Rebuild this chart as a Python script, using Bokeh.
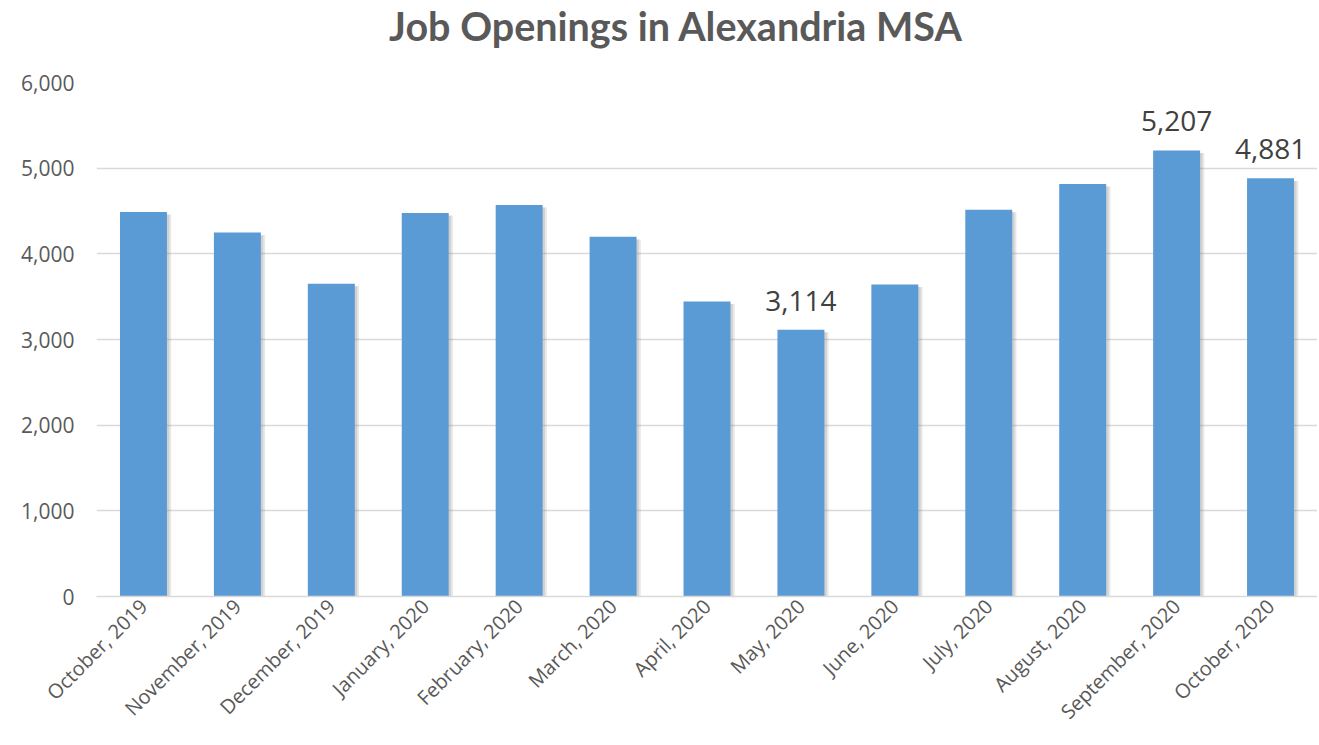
import math
from bokeh.plotting import figure
from bokeh.layouts import column
from bokeh.models import (ColumnDataSource, Range1d, NumeralTickFormatter, FixedTicker, Div)
from bokeh.transform import dodge
from bokeh.core.properties import value
from bokeh.embed import file_html
from bokeh.resources import INLINE

months = ["October, 2019", "November, 2019", "December, 2019", "January, 2020",
          "February, 2020", "March, 2020", "April, 2020", "May, 2020", "June, 2020",
          "July, 2020", "August, 2020", "September, 2020", "October, 2020"]
openings = [4488, 4248, 3651, 4477, 4570, 4198, 3444, 3114, 3643, 4515, 4815, 5207, 4881]
labeled_months = ["May, 2020", "September, 2020", "October, 2020"]
y_ticks = [0, 1000, 2000, 3000, 4000, 5000, 6000]
title_text = "Job Openings in Alexandria MSA"

labels = [f"{v:,}" if m in labeled_months else "" for m, v in zip(months, openings)]
shadow_top = [v - 30 for v in openings]
src = ColumnDataSource(dict(month=months, val=openings, lab=labels, stop=shadow_top))

FONT = "Open Sans"
W = 1317
title = Div(text=title_text, width=W, height=58, margin=(0, 0, 0, 0),
            styles={"font-family": "Lato", "font-weight": "bold", "font-size": "39.5px",
                    "color": "#595959", "text-align": "center", "line-height": "52px",
                    "padding-left": "34px", "box-sizing": "border-box", "width": f"{W}px"})

p = figure(x_range=months, y_range=Range1d(0, 6000), width=W, height=685,
           output_backend="svg", toolbar_location=None,
           min_border_left=96, min_border_right=0, min_border_top=24, min_border_bottom=147)
p.margin = (0, 0, 0, 0)
p.outline_line_color = None
p.background_fill_color = "white"
p.border_fill_color = "white"

# soft shadow
p.vbar(x=dodge("month", 0.045, range=p.x_range), top="stop", bottom=-30, width=0.5,
       source=src, fill_color="#7f7f7f", fill_alpha=0.18, line_color=None)
p.vbar(x=dodge("month", 0.025, range=p.x_range), top="stop", bottom=-20, width=0.5,
       source=src, fill_color="#7f7f7f", fill_alpha=0.22, line_color=None)
p.vbar(x="month", top="val", width=0.5, source=src, fill_color="#5B9BD5", line_color=None)

p.text(x="month", y="val", text="lab", source=src, text_align="center",
       text_baseline="alphabetic", y_offset=-29, text_font=value(FONT),
       text_font_size="28px", text_color="#404040")

p.xgrid.grid_line_color = None
p.ygrid.grid_line_color = "#D9D9D9"
p.ygrid.grid_line_width = 1.5
p.yaxis.ticker = FixedTicker(ticks=y_ticks)
p.yaxis.formatter = NumeralTickFormatter(format="0,0")
p.yaxis.axis_line_color = None
p.yaxis.major_tick_line_color = None
p.yaxis.minor_tick_line_color = None
p.yaxis.major_tick_out = 0
p.yaxis.major_label_standoff = 22
p.yaxis.major_label_text_font = FONT
p.yaxis.major_label_text_font_size = "21px"
p.yaxis.major_label_text_color = "#595959"

p.xaxis.axis_line_color = "#D9D9D9"
p.xaxis.axis_line_width = 1.5
p.xaxis.major_tick_line_color = None
p.xaxis.major_tick_out = 0
p.xaxis.major_label_orientation = math.pi / 4
p.xaxis.major_label_standoff = 6
p.xaxis.major_label_text_font = FONT
p.xaxis.major_label_text_font_size = "20px"
p.xaxis.major_label_text_color = "#595959"
p.x_range.range_padding = 0

open("out.html", "w").write(file_html(column(title, p, spacing=0), INLINE))
